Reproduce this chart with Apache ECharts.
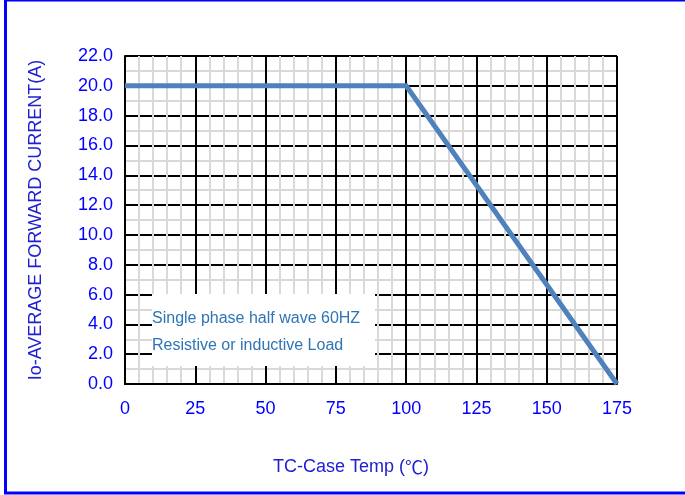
<!DOCTYPE html>
<html><head><meta charset="utf-8">
<script src="https://cdn.jsdelivr.net/npm/echarts@6/dist/echarts.min.js"></script>
<style>html,body{margin:0;padding:0;background:#fff}#c{width:685px;height:495px}</style>
</head><body><div id="c"></div>
<script>
const tempC = [0, 100, 175];
const currentA = [20, 20, 0];
const xTicks = [0, 25, 50, 75, 100, 125, 150, 175];
const yTicks = [0, 2, 4, 6, 8, 10, 12, 14, 16, 18, 20, 22];
const noteLines = ['Single phase half wave 60HZ', 'Resistive or inductive Load'];

const FONT = '"Liberation Sans", Arial, sans-serif';
const CJK = '"Noto Sans CJK SC", sans-serif';
const chart = echarts.init(document.getElementById('c'), null, {renderer: 'canvas'});
const xMin = xTicks[0], xMax = xTicks[xTicks.length - 1], xInt = xTicks[1] - xTicks[0];
const yMin = yTicks[0], yMax = yTicks[yTicks.length - 1], yInt = yTicks[1] - yTicks[0];

chart.setOption({
  animation: false,
  grid: {left: 125, right: 68, top: 56, bottom: 111, containLabel: false},
  xAxis: [{
    type: 'value', min: xMin, max: xMax, interval: xInt, z: 2,
    name: '{a|TC-Case Temp (}{b|℃}{a|)}', nameLocation: 'middle', nameGap: 74,
    nameTextStyle: {color: '#2020D0', fontSize: 18, fontFamily: FONT, padding: [0, 40, 0, 0],
      rich: {a: {color: '#2020D0', fontSize: 18, fontFamily: FONT},
             b: {color: '#2020D0', fontSize: 18, fontFamily: CJK}}},
    axisLine: {show: true, lineStyle: {color: '#000', width: 2}},
    axisTick: {show: false},
    axisLabel: {color: '#0000FF', fontSize: 18, fontFamily: FONT, margin: 16},
    splitLine: {show: false},
    minorTick: {show: false, splitNumber: 5},
    minorSplitLine: {show: true, lineStyle: {color: '#D9D9D9', width: 2}}
  }, {
    type: 'value', min: xMin, max: xMax, interval: xInt, z: 3, position: 'bottom',
    axisLine: {show: false}, axisTick: {show: false}, axisLabel: {show: false},
    splitLine: {show: true, lineStyle: {color: '#000', width: 2}}
  }],
  yAxis: {
    type: 'value', min: yMin, max: yMax, interval: yInt, z: 1,
    name: 'Io-AVERAGE FORWARD CURRENT(A)', nameLocation: 'middle', nameGap: 80,
    nameTextStyle: {color: '#2020D0', fontSize: 18, fontFamily: FONT},
    axisLine: {show: true, lineStyle: {color: '#000', width: 2}},
    axisTick: {show: false},
    axisLabel: {color: '#0000FF', fontSize: 18, fontFamily: FONT, margin: 12,
      formatter: v => v.toFixed(1)},
    splitLine: {show: true, lineStyle: {color: '#000', width: 2}},
    minorTick: {show: false, splitNumber: 2},
    minorSplitLine: {show: true, lineStyle: {color: '#D9D9D9', width: 2}}
  },
  series: [{
    type: 'line', xAxisIndex: 0, z: 10,
    data: tempC.map((t, i) => [t, currentA[i]]),
    showSymbol: false, symbol: 'none',
    lineStyle: {color: '#4F81BD', width: 5, join: 'miter'}
  }],
  graphic: [
    {type: 'rect', z: 100, shape: {x: 152, y: 294, width: 223, height: 72}, style: {fill: '#fff'}},
    {type: 'text', z: 101, left: 152, top: 311, style: {text: noteLines[0], fill: '#2E75B6', font: '16px ' + FONT}},
    {type: 'text', z: 101, left: 152, top: 338, style: {text: noteLines[1], fill: '#2E75B6', font: '16px ' + FONT}},
    {type: 'rect', z: 100, shape: {x: 5.5, y: 0, width: 720, height: 493}, style: {fill: 'none', stroke: '#0000FF', lineWidth: 3}}
  ]
});
</script></body></html>
